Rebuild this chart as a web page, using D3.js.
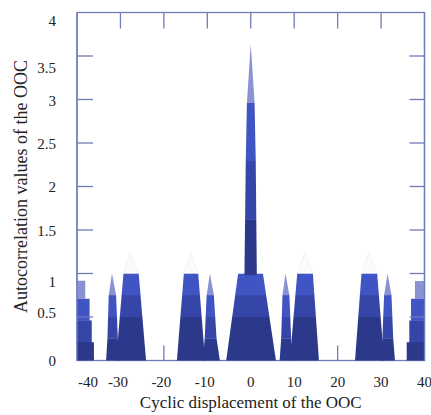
<!DOCTYPE html>
<html><head><meta charset="utf-8">
<script src="https://cdn.jsdelivr.net/npm/d3@7"></script>
<style>body{margin:0;background:#fff}svg{display:block}</style>
</head><body><svg id="c" width="431" height="415"></svg>
<script>
// ---- data ----
const xTicks = [-40, -30, -20, -10, 0, 10, 20, 30, 40];
const yTicks = [0, 0.5, 1, 1.5, 2, 2.5, 3, 3.5, 4];
const yTickLabels = ["0", "0.5", "1", "1.5", "2", "2.5", "3", "3.5", "4"];

// outlines of each filled lobe: [cyclic displacement, autocorrelation]
const lobeEdgeLeft = [[-40,0],[-40,0.92],[-38.1,0.92],[-38.1,0.71],[-37.1,0.71],[-37.1,0.46],[-36.6,0.46],[-36.6,0.21],[-36.1,0.21],[-36.1,0]];
const lobeSpikeA = [[-33.3,0],[-33.0,0.25],[-32.7,0.75],[-31.95,1.0],[-31.0,0.75],[-30.6,0.25],[-30.3,0]];
const lobeTrapA = [[-31.0,0],[-29.3,1.0],[-25.8,1.0],[-24.1,0]];
const lobeTrapB = [[-17.0,0],[-15.4,1.0],[-12.1,1.0],[-10.5,0]];
const lobeSpikeB = [[-11.0,0],[-10.6,0.25],[-10.16,0.75],[-9.4,1.0],[-8.49,0.75],[-7.87,0.25],[-7.1,0]];
const lobeCenter = [[-5.65,0],[-2.9,1.0],[2.8,1.0],[5.8,0]];
const lobePeak = [[-1.45,0.98],[-1.15,2.29],[-0.88,2.96],[0,3.64],[0.88,2.96],[1.15,2.29],[1.4,0.98]];
const lobeSpikeC = [[6.65,0],[7.0,0.25],[7.3,0.75],[8.0,1.0],[8.9,0.75],[9.3,0.25],[9.6,0]];
const lobeTrapC = [[9.0,0],[10.7,1.0],[14.3,1.0],[15.7,0]];
const lobeTrapD = [[24.0,0],[25.5,1.0],[29.1,1.0],[30.7,0]];
const lobeSpikeD = [[29.9,0],[30.3,0.25],[30.7,0.75],[31.5,1.0],[32.4,0.75],[32.8,0.25],[33.2,0]];
const lobeEdgeRight = [[35.9,0],[35.9,0.21],[36.5,0.21],[36.5,0.46],[36.9,0.46],[36.9,0.71],[37.8,0.71],[37.8,0.915],[40,0.915],[40,0]];

// level boundaries within each lobe (shaded bottom -> top)
const levelsEdge = [0, 0.21, 0.46, 0.71, 0.92];
const levelsSpike = [0, 0.25, 0.5, 0.75, 1.0];
const levelsTrap = [0, 0.5, 0.75, 1.0];
const levelsPeak = [0.98, 1.62, 2.29, 2.96, 3.64];

// faint ghost tips above the flat-topped lobes
const ghostTips = [[-29.3,-27.75,-25.8],[-15.4,-13.8,-12.1],[10.7,12.4,14.3],[25.5,27.1,29.1]];
const ghostTop = 1.23;

// ---- styles ----
const levelColors = ["#2c398b", "#3646a8", "#4154c3", "#8a92d3"];
const axisColor = "#6f7bba";
const font = "'Liberation Serif','Times New Roman',serif";
const yLabelShift = [0, -4, 8, 1, 0, 1, 1, 12, 8];

const lobes = [
  [lobeEdgeLeft, levelsEdge], [lobeSpikeA, levelsSpike], [lobeTrapA, levelsTrap],
  [lobeTrapB, levelsTrap], [lobeSpikeB, levelsSpike], [lobeCenter, levelsTrap],
  [lobePeak, levelsPeak], [lobeSpikeC, levelsSpike], [lobeTrapC, levelsTrap],
  [lobeTrapD, levelsTrap], [lobeSpikeD, levelsSpike], [lobeEdgeRight, levelsEdge]
];

const svg = d3.select("#c");
const x = d3.scaleLinear().domain([-40, 40]).range([77, 424.5]);
const y = d3.scaleLinear().domain([0, 4]).range([360.5, 12.5]);
const line = d3.line().x(d => x(d[0])).y(d => y(d[1]));

// frame (under the fill)
svg.append("rect").attr("x", x(-40)).attr("y", y(4))
  .attr("width", x(40) - x(-40)).attr("height", y(0) - y(4))
  .attr("fill", "none").attr("stroke", axisColor).attr("stroke-width", 1.3);

// bottom ticks (under fill)
const inner = xTicks.filter(v => v > -40 && v < 40);
svg.append("g").selectAll("line").data(inner).join("line")
  .attr("x1", d => x(d)).attr("x2", d => x(d))
  .attr("y1", y(0)).attr("y2", y(0) - 15)
  .attr("stroke", axisColor).attr("stroke-width", 1.3);

// ghost tips
svg.append("g").selectAll("path").data(ghostTips).join("path")
  .attr("d", d => line([[d[0], 1.0], [d[1], ghostTop], [d[2], 1.0]]) + "Z")
  .attr("fill", "#fbfbfe").attr("stroke", "#eef0f8").attr("stroke-width", 0.8);

// lobes: polygon clip + horizontal shading levels
const defs = svg.append("defs");
const gl = svg.append("g");
lobes.forEach((lb, i) => {
  const [outline, levels] = lb;
  const id = "clip" + i;
  defs.append("clipPath").attr("id", id).append("path").attr("d", line(outline) + "Z");
  const xs = outline.map(p => p[0]);
  const x0 = x(d3.min(xs)) - 1, x1 = x(d3.max(xs)) + 1;
  const g = gl.append("g").attr("clip-path", `url(#${id})`);
  for (let k = 0; k < levels.length - 1; k++) {
    const top = y(levels[k + 1]) - (k === levels.length - 2 ? 0 : 0.3);
    g.append("rect").attr("x", x0).attr("width", x1 - x0)
      .attr("y", top).attr("height", y(levels[k]) - top + (k === 0 ? 0.6 : 0))
      .attr("fill", levelColors[k]);
  }
});

// top ticks
svg.append("g").selectAll("line").data(inner).join("line")
  .attr("x1", d => x(d)).attr("x2", d => x(d))
  .attr("y1", y(4)).attr("y2", y(4) + 16)
  .attr("stroke", axisColor).attr("stroke-width", 1.3);

// side lines and y ticks on top
svg.append("line").attr("x1", x(-40)).attr("x2", x(-40)).attr("y1", y(4)).attr("y2", y(0))
  .attr("stroke", axisColor).attr("stroke-width", 1.3);
svg.append("line").attr("x1", x(40)).attr("x2", x(40)).attr("y1", y(4)).attr("y2", y(0))
  .attr("stroke", axisColor).attr("stroke-width", 1.3);
const yInner = yTicks.filter(v => v > 0 && v < 4);
svg.append("g").selectAll("line").data(yInner).join("line")
  .attr("x1", x(-40)).attr("x2", x(-40) + 16).attr("y1", d => y(d)).attr("y2", d => y(d))
  .attr("stroke", axisColor).attr("stroke-width", 1.3);
svg.append("g").selectAll("line").data(yInner).join("line")
  .attr("x1", x(40)).attr("x2", x(40) - 15).attr("y1", d => y(d)).attr("y2", d => y(d))
  .attr("stroke", axisColor).attr("stroke-width", 1.3);

// tick labels
svg.append("g").selectAll("text").data(yTicks).join("text")
  .attr("x", 56).attr("y", (d, i) => y(d) + yLabelShift[i]).attr("dy", "0.35em")
  .attr("text-anchor", "end").attr("font-family", font).attr("font-size", 15).attr("fill", "#222")
  .text((d, i) => yTickLabels[i]);

svg.append("g").selectAll("text").data(xTicks).join("text")
  .attr("x", d => d === -40 ? x(d) + 1 : (d < 0 ? x(d) - 2.5 : x(d)))
  .attr("y", 387)
  .attr("text-anchor", d => d === -40 ? "start" : "middle")
  .attr("font-family", font).attr("font-size", 15).attr("fill", "#222")
  .text(d => String(d));

// axis titles
svg.append("text").attr("x", (x(-40) + x(40)) / 2).attr("y", 408)
  .attr("text-anchor", "middle").attr("font-family", font).attr("font-size", 17).attr("fill", "#222")
  .text("Cyclic displacement of the OOC");
svg.append("text").attr("transform", `translate(27,${(y(0) + y(4)) / 2}) rotate(-90)`)
  .attr("text-anchor", "middle").attr("font-family", font).attr("font-size", 18).attr("fill", "#222")
  .text("Autocorrelation values of the OOC");
</script></body></html>
